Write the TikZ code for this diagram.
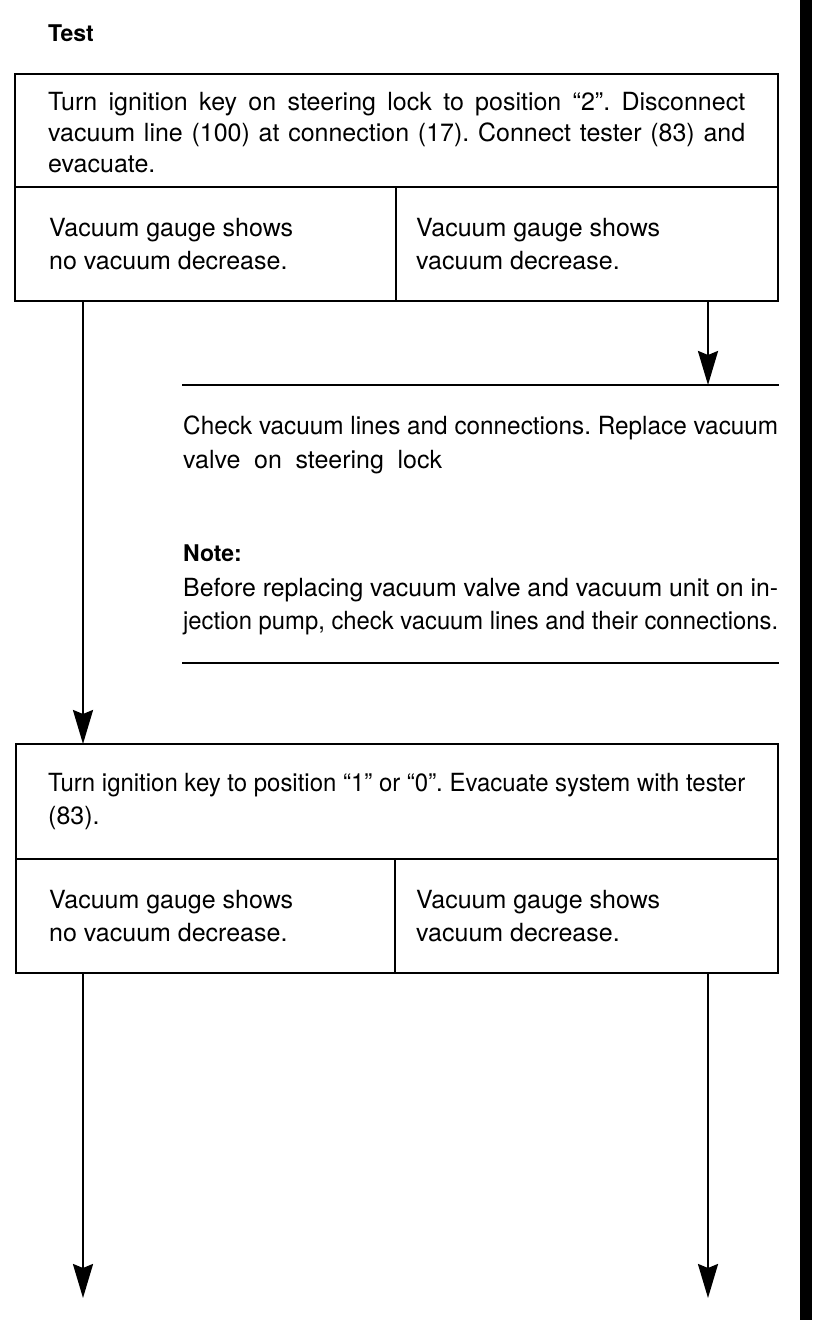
\documentclass[tikz,border=0pt]{standalone}
\usepackage{fontspec}
\usepackage{graphicx}
\setmainfont{TeX Gyre Heros}
\usetikzlibrary{arrows.meta}
\newcommand\jl[2]{\setbox0\hbox{\frenchspacing #2}%
  \ifdim\wd0>#1\relax\resizebox{#1}{\height}{\box0}%
  \else\hbox to #1{\frenchspacing\spaceskip=.28em plus 1fil\relax #2}\fi}
\begin{document}
\begin{tikzpicture}[x=1pt,y=-1pt,
  txt/.style={anchor=base west,inner sep=0pt,font=\fontsize{25}{30}\selectfont},
  btxt/.style={anchor=base west,inner sep=0pt,font=\fontsize{23}{28}\selectfont\bfseries},
  boxline/.style={line width=2.4pt},
  rule/.style={line width=2.8pt},
  arr/.style={line width=2.5pt,-{Stealth[length=34pt,width=20pt,inset=4pt]}}]
\useasboundingbox (0,0) rectangle (816,1320);
\fill[black] (800,0) rectangle (812,1320);
% title
\node[btxt] (title) at (48,41) {Test};
% box 1
\draw[boxline] (15,74) rectangle (778,301);
\draw[boxline] (15,187) -- (778,187);
\draw[boxline] (396,187) -- (396,301);
\node[txt] (b1l1) at (48,110) {\jl{697pt}{Turn ignition key on steering lock to position “2”. Disconnect}};
\node[txt] (b1l2) at (48,141) {\jl{697pt}{vacuum line (100) at connection (17). Connect tester (83) and}};
\node[txt] (b1l3) at (48,172) {evacuate.};
\node[txt] (b1a1) at (49,236) {Vacuum gauge shows};
\node[txt] (b1a2) at (49,269) {no vacuum decrease.};
\node[txt] (b1b1) at (416,236) {Vacuum gauge shows};
\node[txt] (b1b2) at (416,269) {vacuum decrease.};
% connectors
\coordinate (b1L) at (83,301);
\coordinate (b1R) at (708,301);
\coordinate (r1) at (708,385);
\coordinate (b2top) at (83,744);
\draw[arr] (b1R) -- (r1);
\draw[arr] (b1L) -- (b2top);
% check block
\draw[rule] (182,385) -- (779,385);
\node[txt] (c1) at (183,434) {\jl{595pt}{Check vacuum lines and connections. Replace vacuum}};
\node[txt] (c2) at (183,468) {\jl{259pt}{valve on steering lock}};
\node[btxt] (note) at (183,561) {Note:};
\node[txt] (c3) at (183,596) {\jl{595pt}{Before replacing vacuum valve and vacuum unit on in-}};
\node[txt] (c4) at (183,629) {\jl{595pt}{jection pump, check vacuum lines and their connections.}};
\draw[rule] (182,663) -- (779,663);
% box 2
\draw[boxline] (16,744) rectangle (778,973);
\draw[boxline] (16,859) -- (778,859);
\draw[boxline] (395,859) -- (395,973);
\node[txt] (b2l1) at (48,791) {\jl{697pt}{Turn ignition key to position “1” or “0”. Evacuate system with tester}};
\node[txt] (b2l2) at (48,824) {(83).};
\node[txt] (b2a1) at (49,908) {Vacuum gauge shows};
\node[txt] (b2a2) at (49,941) {no vacuum decrease.};
\node[txt] (b2b1) at (416,908) {Vacuum gauge shows};
\node[txt] (b2b2) at (416,941) {vacuum decrease.};
\coordinate (b2L) at (83,973);
\coordinate (b2R) at (708,973);
\coordinate (endL) at (83,1298);
\coordinate (endR) at (708,1298);
\draw[arr] (b2L) -- (endL);
\draw[arr] (b2R) -- (endR);
\end{tikzpicture}
\end{document}
